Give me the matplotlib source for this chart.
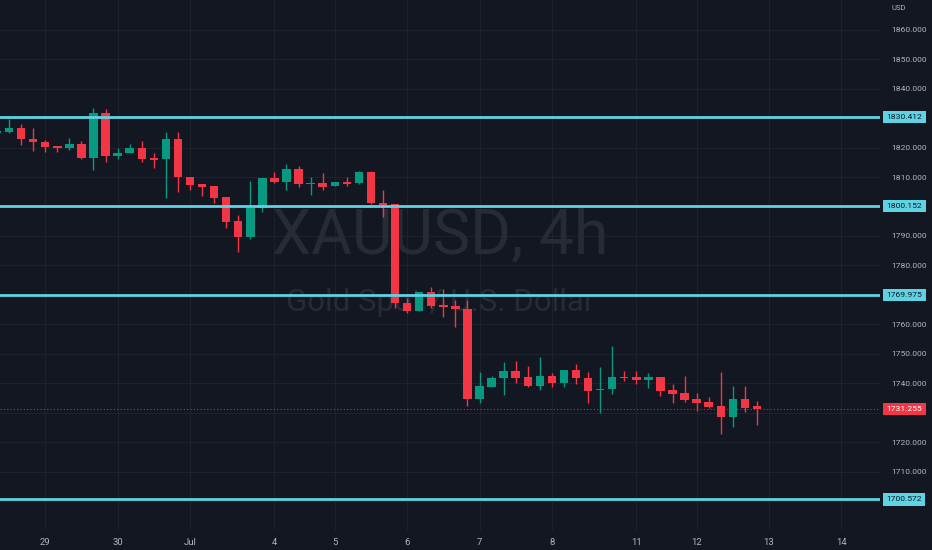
import matplotlib
matplotlib.use("Agg")
import matplotlib.pyplot as plt
from matplotlib.transforms import blended_transform_factory

# 4h candles, XAUUSD
opens = [1825.0, 1825.4, 1826.8, 1822.8, 1821.8, 1820.5, 1820.0, 1821.1, 1816.6, 1831.7,
         1817.3, 1818.1, 1819.8, 1816.4, 1816.0, 1822.8, 1809.9, 1807.6, 1806.9, 1803.1,
         1795.1, 1789.8, 1799.6, 1809.7, 1808.4, 1812.8, 1807.7, 1807.9, 1806.9, 1808.4,
         1807.9, 1811.6, 1801.1, 1800.8, 1767.4, 1764.7, 1770.9, 1766.6, 1766.3, 1765.1,
         1734.7, 1738.9, 1741.7, 1744.3, 1742.1, 1739.2, 1742.5, 1740.0, 1744.5, 1741.7,
         1737.6, 1738.1, 1742.2, 1742.1, 1741.2, 1742.1, 1737.8, 1736.8, 1734.8, 1733.8,
         1732.3, 1728.5, 1734.6, 1732.4]
highs = [1826.3, 1829.7, 1828.0, 1826.7, 1822.6, 1820.7, 1823.2, 1822.4, 1833.4, 1833.0,
         1819.8, 1821.1, 1822.3, 1818.1, 1825.2, 1825.4, 1810.0, 1807.6, 1807.0, 1803.2,
         1797.1, 1808.8, 1809.7, 1811.6, 1814.5, 1813.6, 1810.1, 1811.3, 1808.4, 1810.1,
         1812.2, 1812.2, 1805.6, 1800.9, 1768.9, 1771.0, 1772.8, 1771.9, 1768.3, 1768.3,
         1743.8, 1742.5, 1747.2, 1747.6, 1745.7, 1749.0, 1743.6, 1744.6, 1746.6, 1743.8,
         1745.4, 1752.7, 1744.2, 1744.3, 1743.6, 1742.2, 1739.8, 1742.6, 1736.8, 1735.3,
         1744.0, 1739.1, 1739.1, 1734.1]
lows = [1824.6, 1825.1, 1820.9, 1819.0, 1818.6, 1818.6, 1819.2, 1816.0, 1812.4, 1815.2,
        1816.0, 1818.0, 1815.2, 1813.0, 1802.8, 1805.0, 1805.6, 1803.6, 1801.1, 1792.6,
        1784.7, 1788.9, 1798.3, 1807.9, 1805.6, 1806.7, 1803.9, 1805.6, 1806.8, 1807.0,
        1807.8, 1801.0, 1796.6, 1765.5, 1764.0, 1764.6, 1765.5, 1762.6, 1759.2, 1732.3,
        1733.3, 1738.7, 1736.0, 1740.0, 1738.7, 1737.7, 1738.7, 1738.7, 1739.8, 1733.2,
        1729.8, 1736.4, 1740.9, 1739.8, 1738.3, 1735.8, 1733.4, 1733.8, 1730.6, 1731.7,
        1722.8, 1725.3, 1730.4, 1725.9]
closes = [1825.8, 1826.8, 1822.8, 1821.8, 1820.3, 1820.0, 1821.1, 1816.4, 1831.7, 1817.2,
          1818.3, 1819.8, 1816.1, 1815.9, 1822.8, 1809.9, 1807.3, 1806.6, 1803.0, 1794.9,
          1789.8, 1799.6, 1809.6, 1808.3, 1812.8, 1807.6, 1808.1, 1806.7, 1808.3, 1807.8,
          1811.6, 1801.1, 1800.6, 1767.2, 1764.7, 1770.9, 1766.4, 1766.0, 1765.1, 1734.7,
          1739.1, 1741.9, 1744.3, 1741.9, 1739.1, 1742.5, 1740.0, 1744.5, 1741.7, 1737.5,
          1738.2, 1742.1, 1741.8, 1741.2, 1742.1, 1737.5, 1736.5, 1734.3, 1733.4, 1732.1,
          1728.5, 1734.6, 1731.5, 1731.255]

level_prices = [1830.412, 1800.152, 1769.975, 1700.572]
last_price = 1731.255

date_pos = [4, 10, 16, 23, 28, 34, 40, 46, 53, 58, 64, 70]
date_labels = ["29", "30", "Jul", "4", "5", "6", "7", "8", "11", "12", "13", "14"]

price_ticks = list(range(1700, 1870, 10))
hidden_ticks = [1700, 1730, 1770, 1800, 1830]  # sit under the price boxes

BG = "#131722"
UP = "#089981"
DOWN = "#f23645"
LEVEL = "#5dd3e3"
TXT = "#b2b5be"
GRID = "#1d222d"

plt.rcParams["font.family"] = ["Roboto", "DejaVu Sans"]

fig = plt.figure(figsize=(9.32, 5.5), dpi=100, facecolor=BG)
ax = fig.add_axes([0, 20 / 550, 880 / 932, 530 / 550])
ax.set_facecolor(BG)

xs = list(range(len(opens)))
colors = [UP if c >= o else DOWN for o, c in zip(opens, closes)]
bottoms = [min(o, c) for o, c in zip(opens, closes)]
heights = [max(abs(c - o), 0.35) for o, c in zip(opens, closes)]

ax.vlines(xs, lows, highs, colors=colors, linewidth=1, zorder=3)
ax.bar(xs, heights, bottom=bottoms, width=0.7, color=colors, linewidth=0, zorder=4)

# horizontal levels
for p in level_prices:
    ax.axhline(p, color=LEVEL, linewidth=2, zorder=5)

# last price dotted line
ax.axhline(last_price, color=DOWN, linewidth=0.8, linestyle=(0, (1, 2)), alpha=0.8, zorder=2)

# watermark
ax.text(0.5, 0.555, "XAUUSD, 4h", transform=ax.transAxes, ha="center", va="center",
        fontsize=45, color="#262b36", zorder=1)
ax.text(0.5, 0.43, "Gold Spot / U.S. Dollar", transform=ax.transAxes, ha="center",
        va="center", fontsize=22.5, color="#262b36", zorder=1)

ax.set_xlim(0.25, 73.2)
ax.set_ylim(1690.2, 1870.1)

ax.set_xticks(date_pos)
ax.set_xticklabels(date_labels)
ax.set_yticks(price_ticks)
ax.set_yticklabels(["" if p in hidden_ticks else f"{p:.3f}" for p in price_ticks])
ax.yaxis.tick_right()
ax.tick_params(axis="y", length=0, pad=8, labelsize=6.1, colors=TXT)
ax.tick_params(axis="x", length=0, pad=6, labelsize=6.8, colors=TXT)
ax.grid(True, color=GRID, linewidth=0.8, zorder=0)
ax.set_axisbelow(True)
for s in ax.spines.values():
    s.set_visible(False)

# price labels on the axis
tr = blended_transform_factory(ax.transAxes, ax.transData)
for p in level_prices:
    ax.text(1.0075, p, f"{p:.3f}", transform=tr, ha="left", va="center", fontsize=6.1,
            color=BG, clip_on=False, zorder=10,
            bbox=dict(boxstyle="square,pad=0.4", facecolor=LEVEL, edgecolor="none"))
ax.text(1.0075, last_price, f"{last_price:.3f}", transform=tr, ha="left", va="center",
        fontsize=6.1, color="white", clip_on=False, zorder=10,
        bbox=dict(boxstyle="square,pad=0.4", facecolor=DOWN, edgecolor="none"))

fig.text(891 / 932, 1 - 8 / 550, "USD", ha="left", va="center", fontsize=5.5, color=TXT)

plt.savefig("out.png", facecolor=BG)
